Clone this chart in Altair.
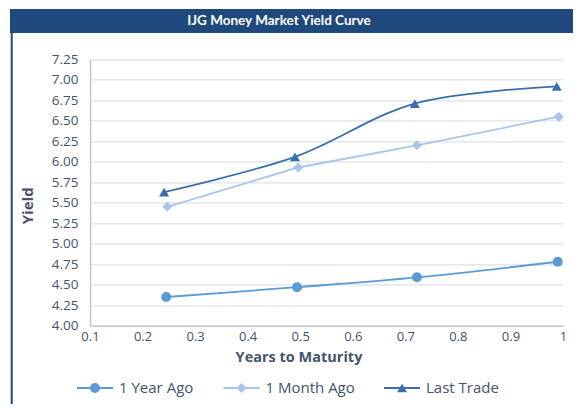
import altair as alt
import pandas as pd

title_text = "IJG Money Market Yield Curve"
series = ["1 Year Ago", "1 Month Ago", "Last Trade"]

year_x = [0.245, 0.494, 0.722, 0.990]
year_y = [4.35, 4.47, 4.59, 4.78]
month_x = [0.247, 0.496, 0.722, 0.992]
month_y = [5.45, 5.93, 6.20, 6.55]
last_x = [0.241, 0.490, 0.718, 0.988]
last_y = [5.63, 6.06, 6.71, 6.92]

x_ticks = [0.1, 0.2, 0.3, 0.4, 0.5, 0.6, 0.7, 0.8, 0.9, 1.0]
y_ticks = [4.0, 4.25, 4.5, 4.75, 5.0, 5.25, 5.5, 5.75, 6.0, 6.25, 6.5, 6.75, 7.0, 7.25]

colors = ["#5B9BD5", "#A9C4E7", "#3A6FAE"]
shapes = ["circle", "diamond", "triangle-up"]

rows = []
for name, xs, ys in [(series[0], year_x, year_y), (series[1], month_x, month_y), (series[2], last_x, last_y)]:
    for xv, yv in zip(xs, ys):
        rows.append({"series": name, "x": xv, "y": yv})
df = pd.DataFrame(rows)

FONT = "Open Sans"
TFONT = "Lato"
TXT = "#44546A"
NAVY = "#1F497D"

W, H = 473, 266.4

xenc = alt.X(
    "x:Q",
    scale=alt.Scale(domain=[0.1, 1.0], nice=False, zero=False),
    axis=alt.Axis(
        values=x_ticks, format=".1~f", title="Years to Maturity", grid=False, ticks=False,
        domainColor="#BFC8D6", domainWidth=1.5, labelFont=FONT, labelFontSize=13, labelColor=TXT,
        labelPadding=5, labelFlush=False,
        titleFont=FONT, titleFontSize=14.5, titleFontWeight="bold", titleColor=TXT,
        titleX=208.5, titleY=35.5, titleBaseline="alphabetic", titleAlign="center",
    ),
)
yenc = alt.Y(
    "y:Q",
    scale=alt.Scale(domain=[4.0, 7.25], nice=False, zero=False),
    axis=alt.Axis(
        values=y_ticks, format=".2f", title="Yield", grid=True, gridColor="#DDE2EA", gridWidth=1.2,
        ticks=False, domainColor="#BFC8D6", domainWidth=1.5,
        labelFont=FONT, labelFontSize=13.5, labelColor=TXT, labelPadding=12,
        titleFont=FONT, titleFontSize=15, titleFontWeight="bold", titleColor=TXT,
        titleX=-62.5, titleY=146, titleAngle=270, titleBaseline="middle", titleAlign="center",
    ),
)
color_scale = alt.Scale(domain=series, range=colors)
shape_scale = alt.Scale(domain=series, range=shapes)

smooth = alt.Chart(df).transform_filter(
    alt.FieldOneOfPredicate(field="series", oneOf=[series[0], series[2]])
).mark_line(interpolate="catmull-rom", strokeWidth=1.8).encode(
    x=xenc, y=yenc, color=alt.Color("series:N", scale=color_scale, legend=None), detail="series:N"
)
straight = alt.Chart(df).transform_filter(
    alt.FieldEqualPredicate(field="series", equal=series[1])
).mark_line(strokeWidth=1.8).encode(
    x=xenc, y=yenc, color=alt.Color("series:N", scale=color_scale, legend=None)
)
points = alt.Chart(df).mark_point(filled=True, opacity=1, size=100).encode(
    x=xenc, y=yenc,
    color=alt.Color("series:N", scale=color_scale, legend=None),
    shape=alt.Shape("series:N", scale=shape_scale, legend=None),
)

# legend drawn as marks (layout offsets in pixels)
ldf = pd.DataFrame({"series": series})
leg_base = alt.Chart(ldf).transform_calculate(
    lx="[5, 151.5, 312][indexof(['1 Year Ago', '1 Month Ago', 'Last Trade'], datum.series)]"
).transform_calculate(l1="datum.lx - 18", l2="datum.lx + 18", tx="datum.lx + 24")
LY = 328.7
leg_line = leg_base.mark_rule(strokeWidth=1.8).encode(
    x=alt.X("l1:Q", scale=None), x2="l2:Q", y=alt.value(LY),
    color=alt.Color("series:N", scale=color_scale, legend=None),
)
leg_pt = leg_base.mark_point(filled=True, opacity=1, size=100).encode(
    x=alt.X("lx:Q", scale=None), y=alt.value(LY),
    color=alt.Color("series:N", scale=color_scale, legend=None),
    shape=alt.Shape("series:N", scale=shape_scale, legend=None),
)
leg_txt = leg_base.mark_text(
    align="left", baseline="middle", font=FONT, fontSize=15, color=TXT
).encode(x=alt.X("tx:Q", scale=None), y=alt.value(LY), text="series:N")

tdf = pd.DataFrame({"t": [title_text]})
bar = alt.Chart(tdf).mark_rect(color=NAVY).encode(
    x=alt.value(-80), x2=alt.value(490), y=alt.value(-50.3), y2=alt.value(-26.3)
)
bar_text = alt.Chart(tdf).mark_text(
    font=TFONT, fontWeight="bold", fontSize=13.5, color="white", baseline="middle", align="center"
).encode(x=alt.value(189), y=alt.value(-38.3), text="t:N")
border = alt.Chart(tdf).mark_rule(color=NAVY, strokeWidth=2).encode(
    x=alt.value(-78.3), y=alt.value(-27), y2=alt.value(345)
)

chart = alt.layer(
    bar, bar_text, border, smooth, straight, points, leg_line, leg_pt, leg_txt
).properties(
    width=W, height=H,
    autosize=alt.AutoSizeParams(type="none"),
    padding={"left": 82, "top": 51.3, "right": 10, "bottom": 78.3},
    background="white",
).configure_view(stroke=None)

chart.save("out.html", embed_options={"renderer": "svg", "actions": False})
